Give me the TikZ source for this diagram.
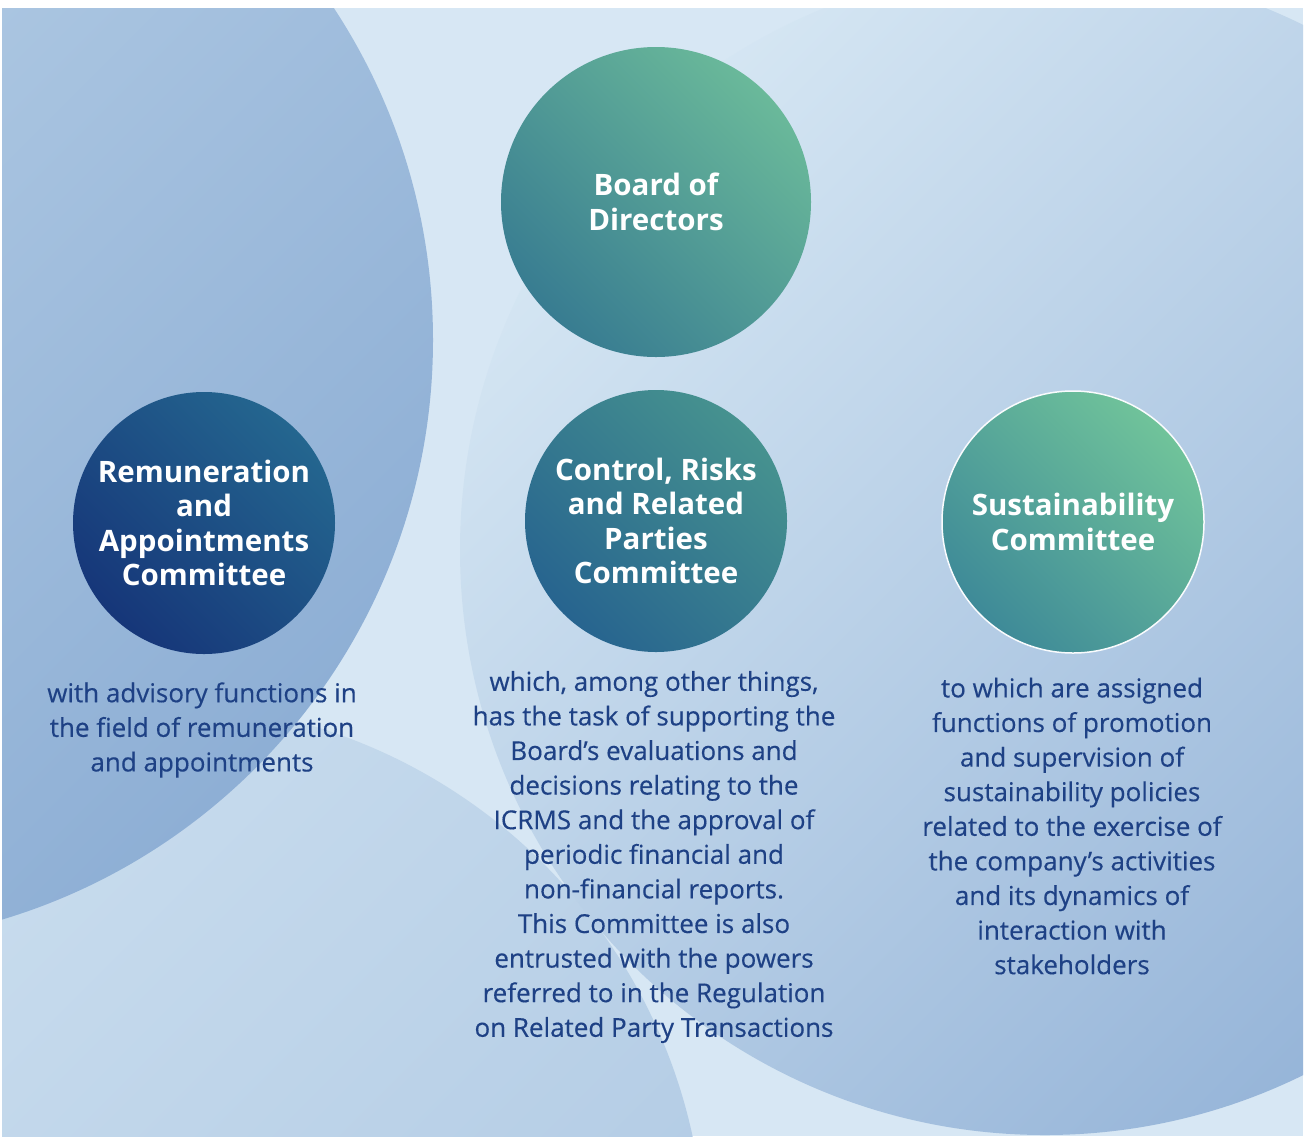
\documentclass[tikz,border=0pt]{standalone}
\usepackage{fontspec}
\setmainfont{Open Sans}
\newfontfamily\bodyfont{Open Sans}[FakeBold=0.35]
\definecolor{bg}{HTML}{D7E7F4}
\definecolor{bigLa}{HTML}{BDD4E9}
\definecolor{bigLb}{HTML}{8EAFD5}
\definecolor{lowLa}{HTML}{CCDFEF}
\definecolor{lowLb}{HTML}{AEC8E3}
\definecolor{bigRa}{HTML}{D5E6F3}
\definecolor{bigRb}{HTML}{95B4D8}
\definecolor{boardA}{HTML}{6AB99A}
\definecolor{boardB}{HTML}{387C91}
\definecolor{ctrlA}{HTML}{46928F}
\definecolor{ctrlB}{HTML}{27648F}
\definecolor{remA}{HTML}{24668F}
\definecolor{remB}{HTML}{163679}
\definecolor{susA}{HTML}{70C39A}
\definecolor{susB}{HTML}{3E8A98}
\definecolor{txt}{HTML}{1E4185}
\tikzset{
  comm/.style={circle, minimum size=262pt, inner sep=0pt, text=white,
    align=center, font=\fontsize{29.5}{34.5}\selectfont\bfseries},
  grad/.style 2 args={top color=#1, bottom color=#2, shading angle=-45},
  desc/.style={text=txt, align=center, inner sep=0pt,
    font=\bodyfont\fontsize{26}{34.6}\selectfont}
}
\begin{document}
\begin{tikzpicture}[x=1pt,y=-1pt]
\useasboundingbox (0,0) rectangle (1305,1136);
\fill[white] (0,0) rectangle (1305,1136);
\begin{scope}
\clip (2,8) rectangle (1303,1136);
\fill[bg] (2,8) rectangle (1303,1136);
% lower-left circle
\shade[top color=lowLa, bottom color=lowLb, shading angle=45] (155,1253) circle[radius=550];
% big right circle
\shade[top color=bigRa, bottom color=bigRb, shading angle=45] (1045,550) circle[radius=585];
% big left circle
\shade[top color=bigLa, bottom color=bigLb, shading angle=45] (-172,340) circle[radius=605];
\end{scope}

\node[comm, minimum size=310pt, grad={boardA}{boardB}] (board) at (656,202) {Board of\\Directors};
\node[comm, grad={ctrlA}{ctrlB}] (ctrl) at (656,521) {Control, Risks\\and Related\\Parties\\Committee};
\node[comm, grad={remA}{remB}] (rem) at (204,523) {Remuneration\\and\\Appointments\\Committee};
\node[comm, grad={susA}{susB}, draw=white!85!bigRa, line width=1.5pt] (sus) at (1073,522) {Sustainability\\Committee};

\node[desc] (remtxt) at (202,730) {with advisory functions in\\the field of remuneration\\and appointments};
\node[desc] (ctrltxt) at (654,857) {which, among other things,\\has the task of supporting the\\Board’s evaluations and\\decisions relating to the\\ICRMS and the approval of\\periodic financial and\\non-financial reports.\\This Committee is also\\entrusted with the powers\\referred to in the Regulation\\on Related Party Transactions};
\node[desc] (sustxt) at (1072,826) {to which are assigned\\functions of promotion\\and supervision of\\sustainability policies\\related to the exercise of\\the company’s activities\\and its dynamics of\\interaction with\\stakeholders};
\end{tikzpicture}
\end{document}
